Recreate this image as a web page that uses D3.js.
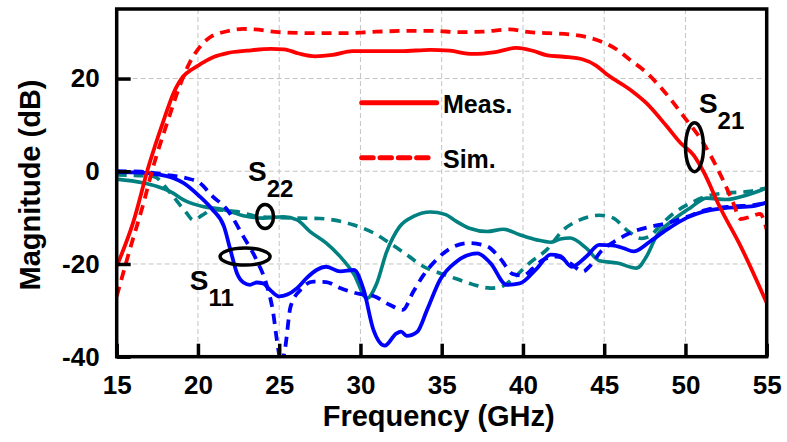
<!DOCTYPE html>
<html>
<head>
<meta charset="utf-8">
<script src="https://cdn.jsdelivr.net/npm/d3@7"></script>
<style>
  html, body { margin: 0; padding: 0; background: #fff; }
  svg { display: block; font-family: "Liberation Sans", Arial, sans-serif; font-weight: bold; }
</style>
</head>
<body>
<svg id="chart" width="787" height="442"></svg>
<script>
// Frequency ticks (GHz) and magnitude ticks (dB)
const xTicks = [15, 20, 25, 30, 35, 40, 45, 50, 55];
const yTicks = [-40, -20, 0, 20];

// S21 measured
const s21MeasFreq = [15, 16, 17, 17.9, 18.5, 19.1, 19.6, 20.2, 21, 21.8, 23, 24.5, 25.3, 26.2, 27.2, 28.3, 29.5, 31, 32.5, 34.3, 35.5, 36.9, 38.3, 39.6, 40.6, 41.5, 42.5, 43.7, 44.5, 45.2, 46.6, 47.6, 48.85, 49.7, 50.5, 51.1, 52.1, 53.4, 55];
const s21MeasDb   = [-20.5, -11.2, 1.5, 11.1, 16.9, 20.5, 21.9, 23.2, 24.7, 25.5, 26, 26.4, 26.3, 25.4, 24.8, 25.1, 25.9, 25.9, 25.9, 26.2, 26, 25.3, 25.7, 26.6, 26, 25, 24.7, 24.1, 22.8, 20.8, 17.6, 14.7, 9.7, 6.1, 3.5, 0, -7.6, -16.2, -28.4];

// S21 simulated
const s21SimFreq = [15, 15.8, 16.65, 17.25, 18.1, 19, 19.5, 20, 20.7, 21.8, 22.8, 23.5, 25, 27, 29, 31, 33, 34.5, 36, 37.5, 39.2, 40.4, 41.6, 42.9, 44, 44.8, 45.8, 46.6, 47.4, 48.6, 49.9, 51.1, 52.3, 52.9, 53.4, 54, 54.6, 55];
const s21SimDb   = [-27, -17, -6.9, 1, 10.4, 19.5, 23.5, 26.3, 28.8, 30.2, 30.7, 30.6, 30, 29.8, 29.8, 30.1, 30.3, 30.3, 30, 30.1, 30.6, 30, 29.8, 29.5, 28.9, 28, 26.2, 24, 21.9, 17.6, 11.8, 6.1, -1.8, -6.5, -10.3, -9.8, -9.2, -12.6];

// S11 measured
const s11MeasFreq = [15, 16.5, 17.7, 18.5, 19.1, 20.1, 20.9, 21.6, 22, 22.4, 22.8, 23.2, 23.6, 24, 24.5, 25, 25.5, 26.1, 26.7, 27.3, 27.9, 28.75, 29.6, 30.2, 30.8, 31.5, 32.2, 32.5, 32.85, 33.5, 34.1, 34.9, 35.9, 37.2, 38, 39, 39.8, 40.85, 41.7, 42.3, 43, 43.9, 44.7, 45.5, 46.2, 46.8, 47.8, 48.85, 50.1, 51.1, 52.5, 54.2, 55];
const s11MeasDb   = [-0.2, -0.3, -0.8, -1.5, -2.5, -5.4, -8.3, -11.9, -17, -22, -24, -24.5, -24, -24.2, -25.8, -27, -26.6, -25.2, -23, -21.3, -20.6, -21.6, -21.3, -25.6, -34.2, -37.6, -35, -34.6, -35.5, -34.6, -29.9, -23.4, -19.5, -17.7, -19.8, -24.5, -24.2, -21, -18, -18.3, -20.6, -18.4, -15.9, -16, -16.6, -17.3, -15.2, -12.6, -10, -8.7, -7.9, -7.5, -6.7];

// S11 simulated
const s11SimFreq = [15, 16.5, 18.1, 19.3, 20.1, 20.9, 21.8, 22.8, 23.6, 24.2, 24.6, 24.95, 25.12, 25.35, 25.7, 26.3, 27.1, 27.9, 28.75, 30, 30.8, 31.8, 32.6, 33.25, 33.9, 34.7, 35.6, 36.7, 37.8, 38.6, 39.4, 40, 40.6, 41.25, 42.1, 42.9, 43.7, 44.1, 44.8, 45.8, 46.8, 47.8, 48.85, 50.1, 51.3, 52.9, 54.2, 55];
const s11SimDb   = [0, -0.1, -0.8, -1.5, -2.5, -5.4, -8.3, -14.1, -19.1, -24.2, -29.9, -38.6, -41.5, -38.5, -29.2, -25.6, -23.8, -23.9, -25.2, -26.5, -26.9, -28.8, -29.9, -26, -22.3, -19, -16.5, -15.5, -16.2, -18.8, -22.2, -22.5, -21, -19.1, -18.4, -19.8, -21.6, -20.5, -17.3, -14.8, -13, -12, -11.2, -9.8, -8.3, -7.6, -7.3, -6.8];

// S22 measured
const s22MeasFreq = [15, 16.6, 17.5, 18.3, 19.3, 20.3, 21.6, 22.8, 24, 25.25, 26.1, 26.9, 27.9, 28.7, 29.6, 30.4, 31, 31.6, 32.4, 33.3, 34.3, 35.2, 35.9, 36.7, 37.8, 38.8, 39.8, 40.85, 41.7, 42.3, 42.9, 43.9, 44.7, 45.8, 47, 47.6, 48.2, 49.25, 50.3, 51.3, 52.5, 53.8, 55];
const s22MeasDb   = [-1.7, -2.5, -3.3, -4.4, -6.5, -7.6, -8.3, -9.6, -10.1, -9.8, -10.5, -13, -15.5, -18.2, -22.2, -27.4, -24.2, -17.5, -12, -9.7, -8.8, -9.3, -10.8, -12.3, -13, -12.5, -13.7, -14.8, -15.3, -14.6, -14.4, -16.6, -19.3, -19.8, -20.9, -18.4, -14.1, -10.5, -7.9, -5.8, -6.1, -5.1, -3.6];

// S22 simulated
const s22SimFreq = [15, 17.25, 18.3, 19.3, 19.7, 20.3, 20.9, 22.4, 23.8, 26.1, 27.5, 29.6, 30.8, 31.8, 32.85, 33.9, 34.9, 35.9, 36.9, 38, 38.6, 39.4, 40.4, 41.5, 42.5, 43.5, 44.7, 45.5, 46.5, 47.3, 47.8, 48.5, 49.3, 50.3, 51.3, 52.5, 53.8, 55];
const s22SimDb   = [-0.8, -1.1, -4.7, -9, -10.5, -9.4, -8.3, -8.7, -9.8, -10.1, -10.2, -11.6, -13.3, -15.5, -18, -20.6, -22, -23.2, -24.4, -25.2, -25, -23.1, -19.8, -16.8, -12.6, -10.5, -9.5, -10, -13, -14.5, -14, -11.5, -9, -6.9, -5.4, -4.7, -4.4, -3.6];

const legendLabels = ["Meas.", "Sim."];

const RED = "#ff0000", BLUE = "#0000ff", TEAL = "#008080";

const W = 787, H = 442;
const margin = { left: 116.7, right: 20.3, top: 9, bottom: 85.3 };
const pw = W - margin.left - margin.right;
const ph = H - margin.top - margin.bottom;

const svg = d3.select("#chart");
const g = svg.append("g").attr("transform", `translate(${margin.left},${margin.top})`);

const x = d3.scaleLinear().domain([15, 55]).range([0, pw]);
const y = d3.scaleLinear().domain([-40, 35]).range([ph, 0]);

// dashed grid
const grid = g.append("g").attr("stroke", "#c4c4c4").attr("stroke-width", 1).attr("stroke-dasharray", "5,3");
grid.selectAll("line.v").data(xTicks.filter(t => t > 15 && t < 55)).join("line")
  .attr("x1", d => x(d)).attr("x2", d => x(d)).attr("y1", 0).attr("y2", ph);
grid.selectAll("line.h").data(yTicks.filter(t => t > -40)).join("line")
  .attr("x1", 0).attr("x2", pw).attr("y1", d => y(d)).attr("y2", d => y(d));

// clip curves to plot area
g.append("clipPath").attr("id", "plotClip").append("rect")
  .attr("x", 0).attr("y", 0).attr("width", pw).attr("height", ph);

const line = d3.line().x(d => x(d[0])).y(d => y(d[1])).curve(d3.curveMonotoneX);
const zip = (f, v) => f.map((fi, i) => [fi, v[i]]);

const series = [
  { f: s22SimFreq, v: s22SimDb, color: TEAL, dash: "10,7", w: 3.6 },
  { f: s22MeasFreq, v: s22MeasDb, color: TEAL, dash: null, w: 3.6 },
  { f: s11SimFreq, v: s11SimDb, color: BLUE, dash: "10,7", w: 3.8 },
  { f: s11MeasFreq, v: s11MeasDb, color: BLUE, dash: null, w: 3.8 },
  { f: s21SimFreq, v: s21SimDb, color: RED, dash: "10,7", w: 3.8 },
  { f: s21MeasFreq, v: s21MeasDb, color: RED, dash: null, w: 3.8 }
];

const curves = g.append("g").attr("clip-path", "url(#plotClip)");
curves.selectAll("path").data(series).join("path")
  .attr("d", s => line(zip(s.f, s.v)))
  .attr("fill", "none")
  .attr("stroke", s => s.color)
  .attr("stroke-width", s => s.w)
  .attr("stroke-dasharray", s => s.dash)
  .attr("stroke-linejoin", "round");

// axes with inward ticks
const xAxis = g.append("g").attr("transform", `translate(0,${ph})`)
  .call(d3.axisBottom(x).tickValues(xTicks).tickSize(-13).tickPadding(19).tickFormat(d3.format("d")));
const yAxis = g.append("g")
  .call(d3.axisLeft(y).tickValues(yTicks).tickSize(-14).tickPadding(17).tickFormat(d3.format("d")));
[xAxis, yAxis].forEach(a => {
  a.select(".domain").remove();
  a.selectAll(".tick line").attr("stroke", "#000").attr("stroke-width", 3.5);
  a.selectAll(".tick text").attr("fill", "#000")
    .style("font-family", "'Liberation Sans', Arial, sans-serif")
    .style("font-weight", "bold").style("font-size", "26px");
});
yAxis.selectAll(".tick text").text(d => d < 0 ? "-" + Math.abs(d) : d);

// frame
g.append("rect").attr("x", 0).attr("y", 0).attr("width", pw).attr("height", ph)
  .attr("fill", "none").attr("stroke", "#000").attr("stroke-width", 3.5);

// axis titles
svg.append("text").attr("x", margin.left + pw / 2 - 3).attr("y", 426)
  .attr("text-anchor", "middle").style("font-size", "29px").text("Frequency (GHz)");
svg.append("text").attr("transform", `translate(40,${margin.top + 176}) rotate(-90)`)
  .attr("text-anchor", "middle").style("font-size", "29px").text("Magnitude (dB)");

// legend
const leg = g.append("g");
const legRows = [
  { label: legendLabels[0], dash: null, ly: 93.7, x2: 320 },
  { label: legendLabels[1], dash: "11.5,6.8", ly: 148.7, x2: 313.3 }
];
legRows.forEach(r => {
  leg.append("line").attr("x1", 245).attr("x2", r.x2).attr("y1", r.ly).attr("y2", r.ly)
    .attr("stroke", RED).attr("stroke-width", 5).attr("stroke-dasharray", r.dash)
    .attr("stroke-linecap", "round");
  leg.append("text").attr("x", 326.3).attr("y", r.ly + 10).style("font-size", "25px").text(r.label);
});

// ellipse markers around the curve groups
const rings = [
  { f: 24.13, db: -9.76, rx: 8.5, ry: 12 },
  { f: 22.9, db: -18.4, rx: 25, ry: 8.5 },
  { f: 50.56, db: 5.2, rx: 9, ry: 24.5 }
];
g.append("g").selectAll("ellipse").data(rings).join("ellipse")
  .attr("cx", d => x(d.f)).attr("cy", d => y(d.db))
  .attr("rx", d => d.rx).attr("ry", d => d.ry)
  .attr("fill", "none").attr("stroke", "#000").attr("stroke-width", 3.5);

// S-parameter labels with subscripts
const sLabels = [
  { f: 23.08, db: -2.2, sub: "22" },
  { f: 19.5, db: -25.6, sub: "11" },
  { f: 50.83, db: 12.6, sub: "21" }
];
sLabels.forEach(l => {
  const t = g.append("text").attr("x", x(l.f)).attr("y", y(l.db)).style("font-size", "28px");
  t.append("tspan").text("S");
  t.append("tspan").attr("dy", 16).style("font-size", "24px").text(l.sub);
});
</script>
</body>
</html>
